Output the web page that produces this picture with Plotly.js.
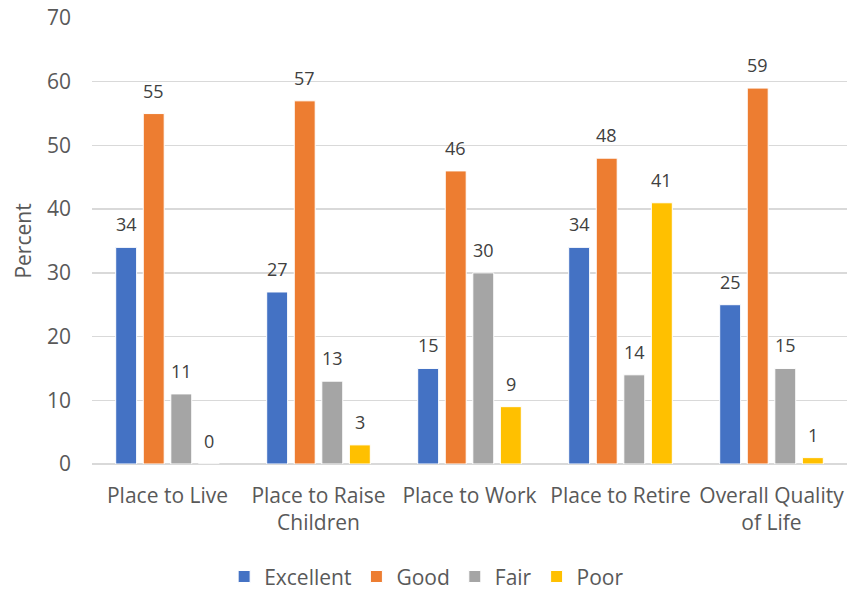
<!DOCTYPE html>
<html>
<head>
<meta charset="utf-8">
<script src="https://cdn.plot.ly/plotly-3.0.1.min.js"></script>
<style>
  html, body { margin: 0; padding: 0; background: #fff; }
  #chart { width: 850px; height: 594px; }
</style>
</head>
<body>
<div id="chart"></div>
<script>
// Community ratings by aspect (percent of respondents)
const categories = [
  'Place to Live',
  'Place to Raise<br>Children',
  'Place to Work',
  'Place to Retire',
  'Overall Quality<br>of Life'
];
const excellent = [34, 27, 15, 34, 25];
const good      = [55, 57, 46, 48, 59];
const fair      = [11, 13, 30, 14, 15];
const poor      = [0, 3, 9, 41, 1];

const seriesNames  = ['Excellent', 'Good', 'Fair', 'Poor'];
const seriesValues = [excellent, good, fair, poor];
const seriesColors = ['#4472C4', '#ED7D31', '#A5A5A5', '#FFC000'];

const textColor = '#595959';
const fontFamily = '"Open Sans", "Segoe UI", sans-serif';

const BAR_GAP = 0.27;
const BAR_GROUP_GAP = 0.24;

const traces = seriesValues.map((vals, i) => ({
  type: 'bar',
  name: seriesNames[i],
  x: categories,
  y: vals,
  marker: { color: seriesColors[i], line: { color: '#ffffff', width: 1 } },
  hoverinfo: 'x+y+name'
}));

// Value labels above each bar, centred on the bar's slot within its group
const nSeries = seriesValues.length;
const groupWidth = 1 - BAR_GAP;
const slot = groupWidth / nSeries;
const annotations = [];
seriesValues.forEach((vals, i) => {
  const offset = -groupWidth / 2 + slot * (i + 0.5);
  vals.forEach((v, j) => {
    annotations.push({
      x: j + offset,
      y: v,
      xref: 'x',
      yref: 'y',
      text: String(v),
      showarrow: false,
      xanchor: 'center',
      yanchor: 'bottom',
      yshift: 9,
      font: { family: fontFamily, size: 18, color: '#404040' }
    });
  });
});

const layout = {
  width: 850,
  height: 594,
  margin: { l: 92, r: 3, t: 18, b: 130, autoexpand: false },
  paper_bgcolor: '#ffffff',
  plot_bgcolor: '#ffffff',
  font: { family: fontFamily, color: textColor, size: 21 },
  barmode: 'group',
  bargap: BAR_GAP,
  bargroupgap: BAR_GROUP_GAP,
  showlegend: true,
  legend: {
    orientation: 'h',
    x: 0.175,
    xanchor: 'left',
    y: -0.253,
    yanchor: 'middle',
    font: { family: fontFamily, size: 21, color: textColor },
    itemwidth: 30,
    tracegroupgap: 0
  },
  annotations: annotations,
  xaxis: {
    type: 'category',
    automargin: false,
    showgrid: false,
    showline: false,
    zeroline: false,
    ticks: '',
    tickfont: { family: fontFamily, size: 21, color: textColor },
    ticklabelstandoff: 17
  },
  yaxis: {
    range: [0, 70],
    dtick: 10,
    automargin: false,
    showgrid: true,
    gridcolor: '#D9D9D9',
    gridwidth: 1.5,
    zeroline: true,
    zerolinecolor: '#D9D9D9',
    zerolinewidth: 1.5,
    showline: false,
    ticks: '',
    ticklabelstandoff: 20,
    tickfont: { family: fontFamily, size: 21, color: textColor },
    title: { text: 'Percent', font: { family: fontFamily, size: 21, color: textColor }, standoff: 9 }
  }
};

Plotly.newPlot('chart', traces, layout, { displayModeBar: false, staticPlot: true });
</script>
</body>
</html>
